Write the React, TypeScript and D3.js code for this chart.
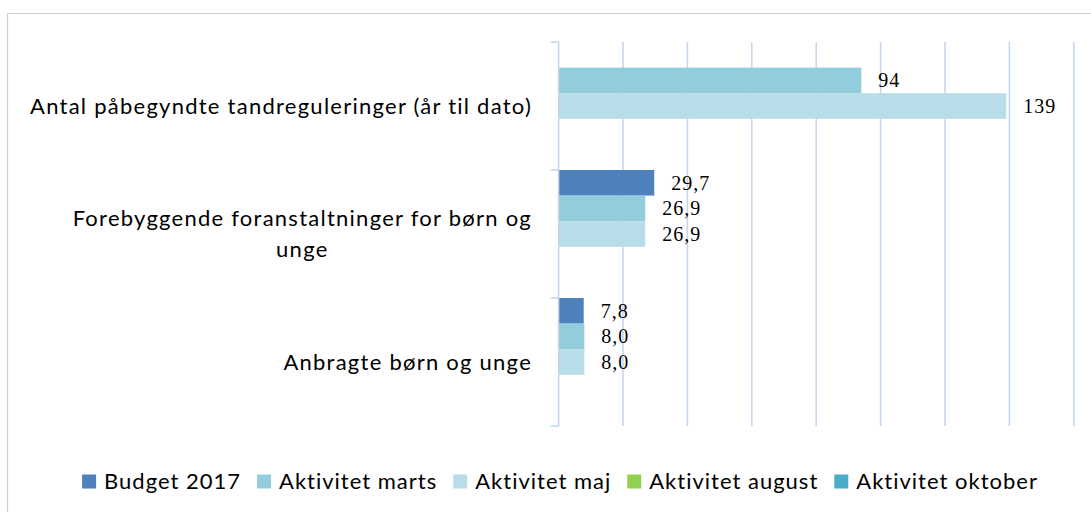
import React, { useEffect, useRef } from "react";
import * as d3 from "d3";

const categories = [
  "Antal påbegyndte tandreguleringer (år til dato)",
  "Forebyggende foranstaltninger for børn og unge",
  "Anbragte børn og unge",
];
const categoryLines = [
  ["Antal påbegyndte tandreguleringer (år til dato)"],
  ["Forebyggende foranstaltninger for børn og", "unge"],
  ["Anbragte børn og unge"],
];
const categoryDecimals = [0, 1, 1];

const seriesNames = [
  "Budget 2017",
  "Aktivitet marts",
  "Aktivitet maj",
  "Aktivitet august",
  "Aktivitet oktober",
];
const seriesColors = ["#4f81bd", "#93cddd", "#b7dee8", "#92d050", "#4bacc6"];

const budget2017: (number | null)[] = [null, 29.7, 7.8];
const aktivitetMarts: (number | null)[] = [94, 26.9, 8.0];
const aktivitetMaj: (number | null)[] = [139, 26.9, 8.0];
const aktivitetAugust: (number | null)[] = [null, null, null];
const aktivitetOktober: (number | null)[] = [null, null, null];

const xDomain = [0, 160];
const xTicks = [0, 20, 40, 60, 80, 100, 120, 140, 160];

const W = 1091;
const H = 512;

export default function App() {
  const ref = useRef<SVGSVGElement>(null);

  useEffect(() => {
    const svg = d3.select(ref.current);
    svg.selectAll("*").remove();

    const series = [budget2017, aktivitetMarts, aktivitetMaj, aktivitetAugust, aktivitetOktober];
    const plot = { left: 558.6, right: 1073.8, top: 42, bottom: 426 };

    const x = d3.scaleLinear().domain(xDomain).range([plot.left, plot.right]);
    const y = d3.scaleBand<string>().domain(categories).range([plot.top, plot.bottom]).padding(0);
    const ys = d3
      .scaleBand<string>()
      .domain(seriesNames)
      .range([0, y.bandwidth()])
      .padding(0);

    // chart border
    svg
      .append("path")
      .attr("d", `M7.5,${H + 5} L7.5,13.5 L${W + 5},13.5`)
      .attr("fill", "none")
      .attr("stroke", "#c5d1e3")
      .attr("stroke-width", 1.2);

    const gridColor = "#c3d5ec";
    // gridlines
    svg
      .append("g")
      .selectAll("line")
      .data(xTicks.filter((t) => t > 0))
      .join("line")
      .attr("x1", (d) => x(d))
      .attr("x2", (d) => x(d))
      .attr("y1", plot.top)
      .attr("y2", plot.bottom)
      .attr("stroke", gridColor)
      .attr("stroke-width", 1.5);

    // bars
    const fmt = (v: number, dec: number) =>
      d3.format(`.${dec}f`)(v).replace(".", ",");

    series.forEach((vals, si) => {
      vals.forEach((v, ci) => {
        if (v == null) return;
        const yy = (y(categories[ci]) as number) + (ys(seriesNames[si]) as number);
        svg
          .append("rect")
          .attr("x", x(0))
          .attr("y", yy)
          .attr("width", x(v) - x(0))
          .attr("height", ys.bandwidth())
          .attr("fill", seriesColors[si]);
        svg
          .append("text")
          .attr("x", x(v) + 17)
          .attr("y", yy + ys.bandwidth() / 2)
          .attr("dy", "0.35em")
          .attr("font-family", "'Liberation Serif', serif")
          .attr("font-size", 20)
          .attr("letter-spacing", 1)
          .attr("fill", "#000")
          .text(fmt(v, categoryDecimals[ci]));
      });
    });

    // axis line & ticks
    const axisG = svg.append("g");
    axisG
      .append("line")
      .attr("x1", plot.left)
      .attr("x2", plot.left)
      .attr("y1", plot.top)
      .attr("y2", plot.bottom)
      .attr("stroke", gridColor)
      .attr("stroke-width", 1.5);
    const boundaries = [plot.top, ...categories.map((c) => (y(c) as number) + y.bandwidth())];
    axisG
      .selectAll("line.tick")
      .data(boundaries)
      .join("line")
      .attr("class", "tick")
      .attr("x1", plot.left - 8)
      .attr("x2", plot.left)
      .attr("y1", (d) => d)
      .attr("y2", (d) => d)
      .attr("stroke", gridColor)
      .attr("stroke-width", 1.5);

    // category labels
    const labelFont = "Lato, 'Open Sans', sans-serif";
    const labelSize = 22;
    const labelSpacing = 1.25;
    const lineGap = 31;
    categoryLines.forEach((lines, ci) => {
      const cy = (y(categories[ci]) as number) + y.bandwidth() / 2;
      const g = svg.append("g");
      const texts = lines.map((ln, li) =>
        g
          .append("text")
          .attr("y", cy + (li - (lines.length - 1) / 2) * lineGap)
          .attr("dy", "0.35em")
          .attr("font-family", labelFont)
          .attr("font-size", labelSize)
          .attr("letter-spacing", labelSpacing)
          .attr("fill", "#000")
          .attr("text-anchor", "middle")
          .text(ln)
      );
      const widths = texts.map((t) => (t.node() as SVGTextElement).getComputedTextLength());
      const maxW = Math.max(...widths);
      const center = 532 - maxW / 2;
      texts.forEach((t) => t.attr("x", center));
    });

    // legend
    const legendY = 481.5;
    const sq = 14;
    const sqGap = 8;
    const itemGap = 16;
    const legendSpacing = 1.0;
    const lg = svg.append("g");
    const items = seriesNames.map((name, i) => {
      const g = lg.append("g");
      g.append("rect")
        .attr("x", 0)
        .attr("y", legendY - sq / 2)
        .attr("width", sq)
        .attr("height", sq)
        .attr("fill", seriesColors[i]);
      const t = g
        .append("text")
        .attr("x", sq + sqGap)
        .attr("y", legendY)
        .attr("dy", "0.35em")
        .attr("font-family", labelFont)
        .attr("font-size", labelSize)
        .attr("letter-spacing", legendSpacing)
        .attr("fill", "#000")
        .text(name);
      const w = sq + sqGap + (t.node() as SVGTextElement).getComputedTextLength();
      return { g, w };
    });
    const total = d3.sum(items, (d) => d.w) + itemGap * (items.length - 1);
    let cx = 560 - total / 2;
    items.forEach((it) => {
      it.g.attr("transform", `translate(${cx},0)`);
      cx += it.w + itemGap;
    });
  }, []);

  return (
    <svg
      ref={ref}
      width={W}
      height={H}
      style={{ position: "absolute", left: 0, top: 0, background: "#fff" }}
    />
  );
}
